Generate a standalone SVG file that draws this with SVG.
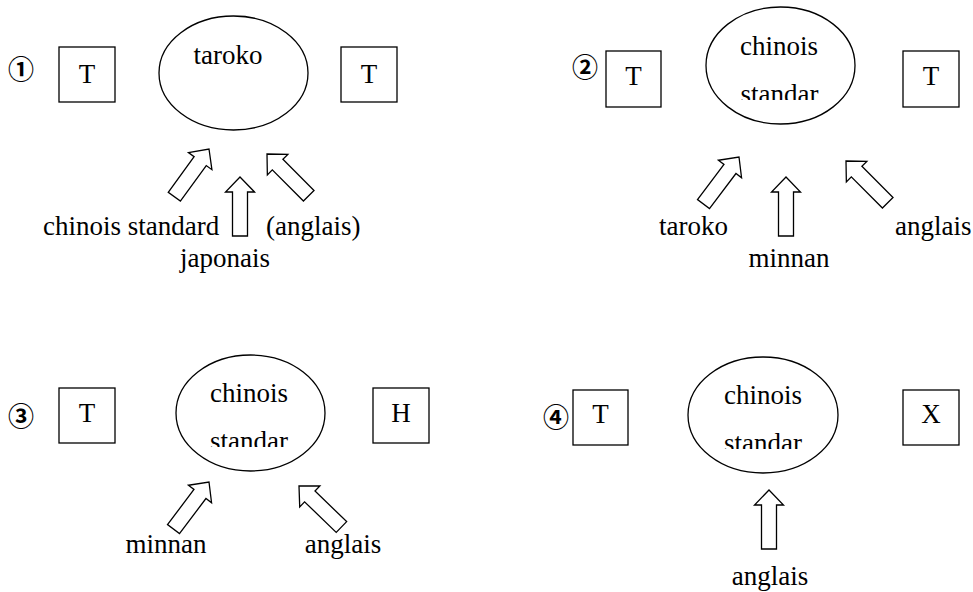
<svg xmlns="http://www.w3.org/2000/svg" width="973" height="592" viewBox="0 0 973 592">
<style>
text{font-family:"Liberation Serif","Times New Roman",serif;font-size:27px;fill:#000}
.num{font-family:"Noto Sans CJK JP","DejaVu Sans",sans-serif;font-size:26px;font-weight:bold;text-anchor:middle}
.c{text-anchor:middle}
.box,.ell,.arr{fill:#fff;stroke:#000;stroke-width:1.3}
</style>
<defs>
<polygon id="ua" points="0,0 14.5,15 7.5,15 7.5,59 -7.5,59 -7.5,15 -14.5,15"/>
<clipPath id="cp2"><rect x="700" y="70" width="160" height="30"/></clipPath>
<clipPath id="cp3"><rect x="170" y="417" width="160" height="30"/></clipPath>
<clipPath id="cp4"><rect x="683" y="419" width="160" height="30"/></clipPath>
</defs>

<g id="panel1">
<text class="num" x="21" y="79">①</text>
<g id="p1-left"><rect class="box" x="59" y="47" width="56" height="55"/><text class="c" x="87" y="83">T</text></g>
<g id="p1-center"><ellipse class="ell" cx="233.5" cy="73" rx="74.5" ry="57"/><text class="c" x="228" y="64">taroko</text></g>
<g id="p1-right"><rect class="box" x="341" y="47" width="56" height="55"/><text class="c" x="369" y="83">T</text></g>
<g id="p1-labels">
<text x="43" y="235">chinois standard</text>
<text x="266" y="235">(anglais)</text>
<text class="c" x="225" y="267">japonais</text>
</g>
</g>

<g id="panel2">
<text class="num" x="585" y="77">②</text>
<g id="p2-left"><rect class="box" x="606" y="51" width="55" height="56"/><text class="c" x="633.5" y="85">T</text></g>
<g id="p2-center"><ellipse class="ell" cx="780.5" cy="65.5" rx="74.5" ry="58.5"/><text class="c" x="779" y="55">chinois</text><text class="c" x="779.5" y="103" clip-path="url(#cp2)">standar</text></g>
<g id="p2-right"><rect class="box" x="903" y="51" width="56" height="56"/><text class="c" x="931" y="85">T</text></g>
<g id="p2-labels">
<text class="c" x="693.5" y="235">taroko</text>
<text class="c" x="789" y="267">minnan</text>
<text x="895" y="235">anglais</text>
</g>
</g>

<g id="panel3">
<text class="num" x="21" y="426">③</text>
<g id="p3-left"><rect class="box" x="59" y="388" width="56" height="55"/><text class="c" x="87" y="422">T</text></g>
<g id="p3-center"><ellipse class="ell" cx="250.5" cy="413" rx="74.5" ry="58"/><text class="c" x="249" y="402">chinois</text><text class="c" x="249" y="450" clip-path="url(#cp3)">standar</text></g>
<g id="p3-right"><rect class="box" x="373" y="388" width="56" height="55"/><text class="c" x="401" y="422">H</text></g>
<g id="p3-labels">
<text class="c" x="166" y="553">minnan</text>
<text class="c" x="343" y="553">anglais</text>
</g>
</g>

<g id="panel4">
<text class="num" x="556" y="427">④</text>
<g id="p4-left"><rect class="box" x="573" y="390" width="55" height="55"/><text class="c" x="600.5" y="423">T</text></g>
<g id="p4-center"><ellipse class="ell" cx="763" cy="415" rx="75" ry="58"/><text class="c" x="763" y="404">chinois</text><text class="c" x="763" y="452" clip-path="url(#cp4)">standar</text></g>
<g id="p4-right"><rect class="box" x="903" y="390" width="56" height="55"/><text class="c" x="931" y="423">X</text></g>
<g id="p4-labels">
<text class="c" x="770" y="585">anglais</text>
</g>
</g>

<g id="connectors">
<use href="#ua" class="arr" transform="translate(209,149) rotate(36)"/>
<use href="#ua" class="arr" transform="translate(240,177)"/>
<use href="#ua" class="arr" transform="translate(267,154) rotate(-45)"/>
<use href="#ua" class="arr" transform="translate(739,157) rotate(37)"/>
<use href="#ua" class="arr" transform="translate(786,177)"/>
<use href="#ua" class="arr" transform="translate(846,161) rotate(-45)"/>
<use href="#ua" class="arr" transform="translate(209,482) rotate(37)"/>
<use href="#ua" class="arr" transform="translate(299,486) rotate(-46)"/>
<use href="#ua" class="arr" transform="translate(769,490)"/>
</g>
</svg>
